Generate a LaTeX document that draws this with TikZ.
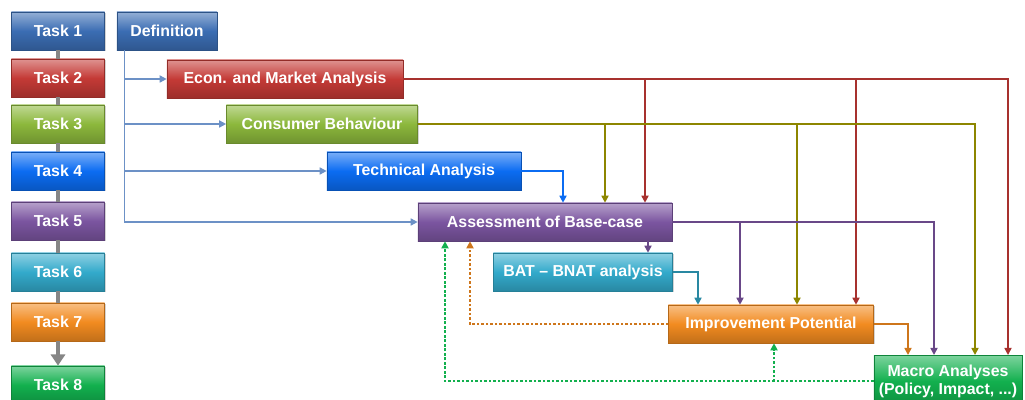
\documentclass[tikz,border=0pt]{standalone}
\usepackage{fontspec}
\setmainfont{Liberation Sans}
\usetikzlibrary{arrows.meta,calc,shadows}

\definecolor{defblue}{HTML}{3B6DB3}
\definecolor{econred}{HTML}{C43A36}
\definecolor{consgreen}{HTML}{8CB83C}
\definecolor{techblue}{HTML}{0B6CF2}
\definecolor{basepurple}{HTML}{7B55A0}
\definecolor{batteal}{HTML}{33AACB}
\definecolor{imprange}{HTML}{F28B20}
\definecolor{macrogreen}{HTML}{12B04E}

\begin{document}
\begin{tikzpicture}[
        x=0.025cm, y=-0.025cm,
        tbox/.style={draw=#1!75!black, line width=0.4pt, top color=#1!55!white, bottom color=#1!80!black, middle color=#1,
            text=white, font=\bfseries\fontsize{11.3}{13}\selectfont, align=center, inner sep=0pt,
            minimum height=0.95cm, drop shadow={opacity=0.35, shadow xshift=0.9pt, shadow yshift=-0.9pt}},
        taskbox/.style={tbox=#1, minimum width=2.325cm},
        link/.style={draw=#1, line width=1.1pt, -{Triangle[length=5pt,width=5pt]}},
        feedback/.style={link=#1, line width=1.5pt, dash pattern=on 1.8pt off 1.4pt},
        chain/.style={draw=gray!95, line width=3pt}
    ]
        \useasboundingbox (0,0) rectangle (1025,400);

        % task column
        \node[taskbox=defblue] (task1) at (58,31) {Task 1};
        \node[taskbox=econred] (task2) at (58,78) {Task 2};
        \node[taskbox=consgreen] (task3) at (58,124) {Task 3};
        \node[taskbox=techblue] (task4) at (58,171) {Task 4};
        \node[taskbox=basepurple] (task5) at (58,221) {Task 5};
        \node[taskbox=batteal] (task6) at (58,272) {Task 6};
        \node[taskbox=imprange] (task7) at (58,322) {Task 7};
        \node[taskbox=macrogreen] (task8) at (58,385) {Task 8};

        \foreach \a/\b in {1/2,2/3,3/4,4/5,5/6,6/7}
            \draw[chain] (task\a.south) -- (task\b.north);
        \draw[chain, -{Triangle[length=8pt,width=10pt]}] (task7.south) -- (task8.north);

        % work flow
        \node[tbox=defblue, minimum width=2.5cm] (definition) at (167,31) {Definition};
        \node[tbox=econred, minimum width=5.9cm] (econ) at (285,79) {Econ. and Market Analysis};
        \node[tbox=consgreen, minimum width=4.775cm] (consumer) at (322,124) {Consumer Behaviour};
        \node[tbox=techblue, minimum width=4.85cm] (technical) at (424,171) {Technical Analysis};
        \node[tbox=basepurple, minimum width=6.35cm] (basecase) at (545,222) {Assessment of Base-case};
        \node[tbox=batteal, minimum width=4.475cm] (bat) at (583,272) {BAT -- BNAT analysis};
        \node[tbox=imprange, minimum width=5.125cm] (improvement) at (771,324) {Improvement Potential};
        \node[tbox=macrogreen, minimum width=3.7cm, minimum height=1.3cm, anchor=north] (macro) at (948,355)
            {Macro Analyses\\(Policy, Impact, ...)};

        % definition feeds
        \coordinate (defline) at ($(definition.south west)+(8,0)$);
        \draw[link=defblue!75] (defline) |- (econ.west);
        \draw[link=defblue!75] (defline) |- (consumer.west);
        \draw[link=defblue!75] (defline) |- (technical.west);
        \draw[link=defblue!75] (defline) |- (basecase.west);

        % economic inputs
        \draw[link=econred!85!black] (econ.east) -| ($(basecase.north)+(100,0)$);
        \draw[link=econred!85!black] (econ.east) -| ($(improvement.north)+(85,0)$);
        \draw[link=econred!85!black] (econ.east) -| ($(macro.north)+(60,0)$);

        % consumer inputs
        \draw[link=olive] (consumer.east) -| ($(basecase.north)+(60,0)$);
        \draw[link=olive] (consumer.east) -| ($(improvement.north)+(26,0)$);
        \draw[link=olive] (consumer.east) -| ($(macro.north)+(27,0)$);

        \draw[link=techblue] (technical.east) -| ($(basecase.north)+(18,0)$);

        % base-case outputs
        \draw[link=basepurple!85!black] ($(basecase.south)+(103,0)$) -- ($(bat.north)+(65,0)$);
        \draw[link=basepurple!85!black] (basecase.east) -| ($(improvement.north)+(-31,0)$);
        \draw[link=basepurple!85!black] (basecase.east) -| ($(macro.north)+(-14,0)$);

        \draw[link=batteal!80!black] (bat.east) -| ($(improvement.north)+(-73,0)$);
        \draw[link=imprange!85!black] (improvement.east) -| ($(macro.north)+(-40,0)$);

        % feedback loops
        \draw[feedback=imprange!85!black] (improvement.west) -| ($(basecase.south)+(-75,0)$);
        \draw[feedback=macrogreen] (macro.west) -| ($(basecase.south)+(-100,0)$);
        \draw[feedback=macrogreen] (macro.west) -| ($(improvement.south)+(3,0)$);
    \end{tikzpicture}
\end{document}
